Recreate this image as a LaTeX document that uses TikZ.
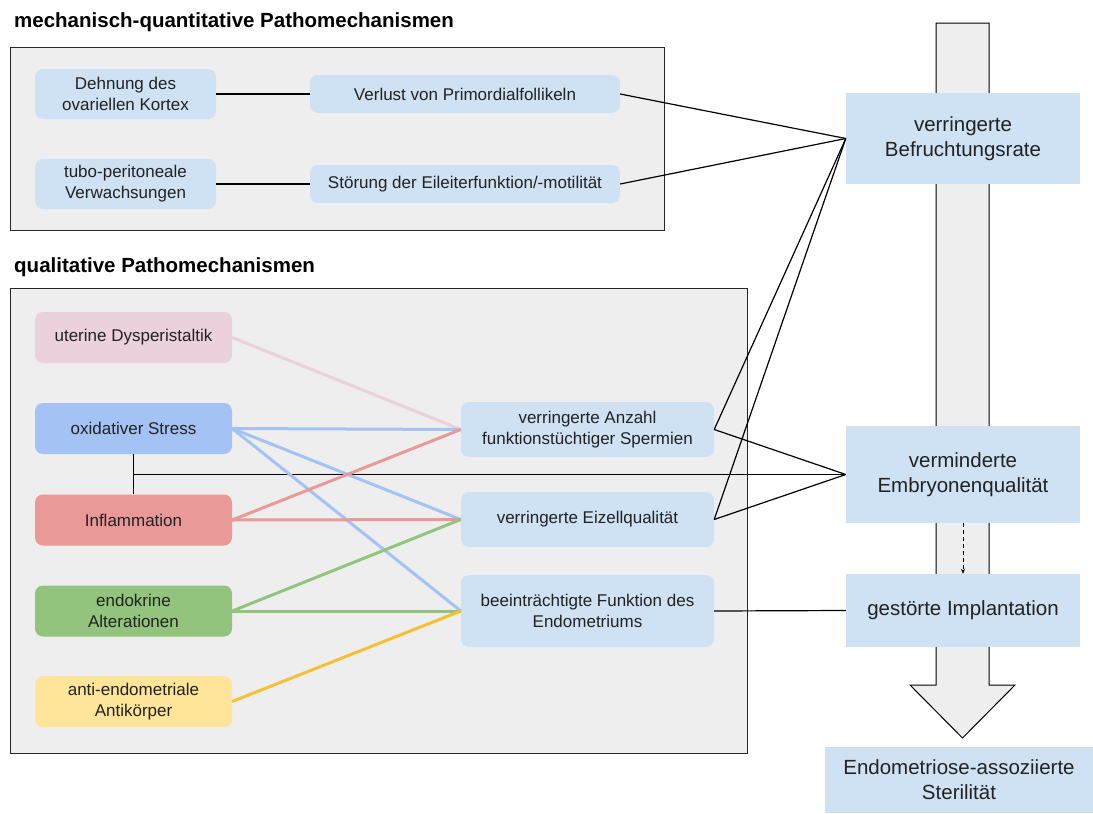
\documentclass[tikz,border=0pt]{standalone}
\usepackage{fontspec}
\setmainfont{Liberation Sans}
\usetikzlibrary{arrows.meta}
\definecolor{nodeblue}{HTML}{CFE2F3}
\definecolor{panelgray}{HTML}{EEEEEE}
\definecolor{cpink}{HTML}{EAD1DC}
\definecolor{cblue}{HTML}{A4C2F4}
\definecolor{cred}{HTML}{EA9999}
\definecolor{cgreen}{HTML}{93C47D}
\definecolor{cyellow}{HTML}{FFE599}
\definecolor{lyellow}{HTML}{F1C232}
\definecolor{txt}{HTML}{222222}
\begin{document}
\begin{tikzpicture}[x=1pt,y=-1pt,
  panel/.style={draw=black!85,line width=1pt,fill=panelgray},
  title/.style={anchor=base west,font=\bfseries\fontsize{20.5}{24}\selectfont,text=black,inner sep=0},
  lnode/.style={rounded corners=8pt,fill=nodeblue,draw=none,inner sep=0,align=center,
     font=\fontsize{17}{21}\selectfont,text=txt},
  rbox/.style={fill=nodeblue,draw=none,inner sep=0,align=center,
     font=\fontsize{20.5}{25}\selectfont,text=txt},
  conn/.style={draw=black,line width=1.2pt},
  cline/.style={line width=3pt}
]
\useasboundingbox (0,0) rectangle (1093,814);

% panels
\path[panel] (10,47) rectangle (664,230);
\path[panel] (10,288) rectangle (747,753);
\node[title] (t1) at (14,27) {mechanisch-quantitative Pathomechanismen};
\node[title] (t2) at (14,272) {qualitative Pathomechanismen};

% big arrow
\draw[line width=1pt,fill=panelgray,line join=miter]
  (936,23) -- (989,23) -- (989,685) -- (1015,685) -- (962.5,738) -- (910,685) -- (936,685) -- cycle;

% right boxes
\node[rbox,minimum width=234pt,minimum height=91pt] (befr) at (963,138.5) {verringerte\\Befruchtungsrate};
\node[rbox,minimum width=234pt,minimum height=97pt] (embr) at (963,474.5) {verminderte\\Embryonenqualit\"at};
\node[rbox,minimum width=234pt,minimum height=73pt] (impl) at (963,610.5) {gest\"orte Implantation};
\node[rbox,minimum width=268pt,minimum height=66pt] (ster) at (959,780) {Endometriose-assoziierte\\Sterilit\"at};

% panel 1 nodes
\node[lnode,minimum width=181pt,minimum height=50pt] (dehn) at (125.5,94) {Dehnung des\\ovariellen Kortex};
\node[lnode,minimum width=181pt,minimum height=50pt] (tubo) at (125.5,184) {tubo-peritoneale\\Verwachsungen};
\node[lnode,minimum width=310pt,minimum height=38pt] (verl) at (465,94) {Verlust von Primordialfollikeln};
\node[lnode,minimum width=310pt,minimum height=38pt] (stoe) at (465,184) {St\"orung der Eileiterfunktion/-motilit\"at};

% panel 2 left nodes
\node[lnode,fill=cpink,minimum width=197pt,minimum height=51pt] (uter) at (133.5,337.5) {uterine Dysperistaltik};
\node[lnode,fill=cblue,minimum width=197pt,minimum height=51pt] (oxid) at (133.5,428.5) {oxidativer Stress};
\node[lnode,fill=cred,minimum width=197pt,minimum height=51pt] (infl) at (133.5,520) {Inflammation};
\node[lnode,fill=cgreen,minimum width=197pt,minimum height=51pt] (endo) at (133.5,611) {endokrine\\Alterationen};
\node[lnode,fill=cyellow,minimum width=197pt,minimum height=51pt] (anti) at (133.5,701.5) {anti-endometriale\\Antik\"orper};

% panel 2 middle nodes
\node[lnode,minimum width=253pt,minimum height=55pt] (sper) at (587.5,429.5) {verringerte Anzahl\\funktionst\"uchtiger Spermien};
\node[lnode,minimum width=253pt,minimum height=55pt] (eize) at (587.5,519.5) {verringerte Eizellqualit\"at};
\node[lnode,minimum width=253pt,minimum height=72pt] (endm) at (587.5,611) {beeintr\"achtigte Funktion des\\Endometriums};

% black connectors
\draw[conn] (dehn.east) -- (verl.west);
\draw[conn] (tubo.east) -- (stoe.west);
\draw[conn] (verl.east) -- (befr.west);
\draw[conn] (stoe.east) -- (befr.west);
\draw[conn] (sper.east) -- (befr.west);
\draw[conn] (sper.east) -- (embr.west);
\draw[conn] (eize.east) -- (befr.west);
\draw[conn] (eize.east) -- (embr.west);
\draw[conn] (endm.east) -- (impl.west);
\draw[conn] (oxid.south) -- (infl.north);
\coordinate (j) at (oxid.south |- embr.west);
\draw[conn] (j) -- (embr.west);
\draw[line width=0.9pt,dash pattern=on 4pt off 3pt,-{Stealth[length=5pt,width=4pt]}] (embr.south) -- (impl.north);

% coloured connectors
\draw[cline,draw=cpink] (uter.east) -- (sper.west);
\draw[cline,draw=cblue] (oxid.east) -- (sper.west);
\draw[cline,draw=cblue] (oxid.east) -- (eize.west);
\draw[cline,draw=cblue] (oxid.east) -- (endm.west);
\draw[cline,draw=cred] (infl.east) -- (sper.west);
\draw[cline,draw=cred] (infl.east) -- (eize.west);
\draw[cline,draw=cgreen] (endo.east) -- (eize.west);
\draw[cline,draw=cgreen] (endo.east) -- (endm.west);
\draw[cline,draw=lyellow] (anti.east) -- (endm.west);
\end{tikzpicture}
\end{document}
